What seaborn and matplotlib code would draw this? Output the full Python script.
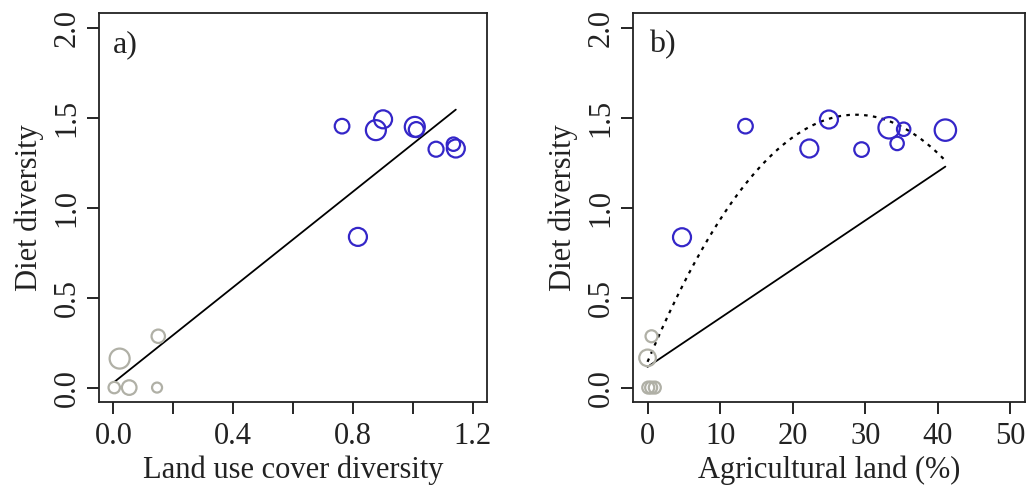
import numpy as np
import pandas as pd
import matplotlib
matplotlib.use("Agg")
import matplotlib.pyplot as plt
import seaborn as sns

sns.set_theme(style="white")
plt.rcParams["font.family"] = ["Liberation Serif", "DejaVu Serif"]

# ---- panel a: diet diversity vs land use cover diversity ----
a_x = [0.764, 0.901, 0.877, 1.007, 1.012, 1.078, 1.136, 1.144, 0.817,
       0.003, 0.053, 0.146, 0.021, 0.150]
a_y = [1.452, 1.490, 1.430, 1.448, 1.433, 1.324, 1.352, 1.328, 0.837,
       0.000, 0.000, 0.000, 0.161, 0.285]
a_r = [7.3, 9.0, 10.0, 10.0, 7.5, 7.5, 6.7, 9.0, 9.0,
       5.7, 7.3, 5.0, 10.0, 6.7]
a_grp = ["agri"] * 9 + ["forest"] * 5
a_fit = [0.027, 1.326]          # intercept, slope

# ---- panel b: diet diversity vs agricultural land ----
b_x = [4.75, 13.5, 22.3, 25.0, 29.5, 33.3, 35.3, 34.4, 41.05,
       0.1, 0.5, 1.0, 0.0, 0.55]
b_y = [0.835, 1.452, 1.328, 1.489, 1.322, 1.443, 1.435, 1.356, 1.430,
       0.000, 0.000, 0.000, 0.165, 0.285]
b_r = [9.0, 7.3, 9.0, 9.0, 7.3, 10.7, 6.7, 6.7, 10.7,
       6.0, 6.0, 6.0, 8.3, 6.0]
b_grp = ["agri"] * 9 + ["forest"] * 5
b_lin = [0.115, 0.0271]                 # intercept, slope
b_quad = [0.143, 0.0957, -0.001668]     # c0, c1, c2

colors = {"agri": "#3426c8", "forest": "#b0b0a6"}

df_a = pd.DataFrame({"x": a_x, "y": a_y, "r": a_r, "g": a_grp})
df_b = pd.DataFrame({"x": b_x, "y": b_y, "r": b_r, "g": b_grp})

fig = plt.figure(figsize=(10.31, 4.91), dpi=100)
ax_a = fig.add_axes([0.096, 0.1813, 0.3763, 0.792])
ax_b = fig.add_axes([0.614, 0.1813, 0.380, 0.792])

FS = 22


def draw_points(ax, df):
    for g, sub in df.groupby("g", sort=False):
        diam_pt = 2 * sub["r"].to_numpy() * 0.72
        sns.scatterplot(data=sub, x="x", y="y", s=diam_pt ** 2, ax=ax,
                        legend=False, zorder=3)
        coll = ax.collections[-1]
        coll.set_facecolor("none")
        coll.set_edgecolor(colors[g])
        coll.set_linewidth(1.6)


def style_axes(ax, xlim, xticks, xlabels, xlabel, tag, tagx):
    ax.set_xlim(*xlim)
    ax.set_ylim(-0.08, 2.08)
    ax.set_xticks(xticks)
    ax.set_xticklabels(xlabels, fontsize=FS)
    ax.set_yticks([0.0, 0.5, 1.0, 1.5, 2.0])
    ax.set_yticklabels(["0.0", "0.5", "1.0", "1.5", "2.0"], fontsize=FS)
    for lab in ax.get_yticklabels():
        lab.set_rotation(90)
        lab.set_va("center")
        lab.set_ha("right")
    ax.tick_params(axis="x", direction="out", length=8.5, width=1.2,
                   color="black", pad=6, labelcolor="#222222", bottom=True)
    ax.tick_params(axis="y", direction="out", length=8.5, width=1.2,
                   color="black", pad=4, labelcolor="#222222", left=True)
    for sp in ax.spines.values():
        sp.set_color("#222222")
        sp.set_linewidth(1.3)
    ax.set_xlabel(xlabel, fontsize=FS, color="#222222", labelpad=3)
    ax.set_ylabel("Diet diversity", fontsize=FS, color="#222222", labelpad=6)
    ax.text(tagx, 0.918, tag, transform=ax.transAxes, fontsize=FS + 1,
            ha="left", va="center", color="#222222")
    ax.grid(False)


# panel a
draw_points(ax_a, df_a)
xa = np.linspace(min(a_x), max(a_x), 50)
ax_a.plot(xa, a_fit[0] + a_fit[1] * xa, color="black", lw=1.3, zorder=2)
style_axes(ax_a, (-0.048, 1.248), [0.0, 0.2, 0.4, 0.6, 0.8, 1.0, 1.2],
           ["0.0", "", "0.4", "", "0.8", "", "1.2"],
           "Land use cover diversity", "a)", 0.036)

# panel b
draw_points(ax_b, df_b)
xb = np.linspace(min(b_x), max(b_x), 200)
ax_b.plot(xb, b_lin[0] + b_lin[1] * xb, color="black", lw=1.3, zorder=2)
ax_b.plot(xb, b_quad[0] + b_quad[1] * xb + b_quad[2] * xb ** 2,
          color="black", lw=1.6, linestyle=(0, (1.6, 2.4)), zorder=2)
style_axes(ax_b, (-2.0, 52.0), [0, 10, 20, 30, 40, 50],
           ["0", "10", "20", "30", "40", "50"],
           "Agricultural land (%)", "b)", 0.041)

fig.savefig("out.png", dpi=100, facecolor="white")
